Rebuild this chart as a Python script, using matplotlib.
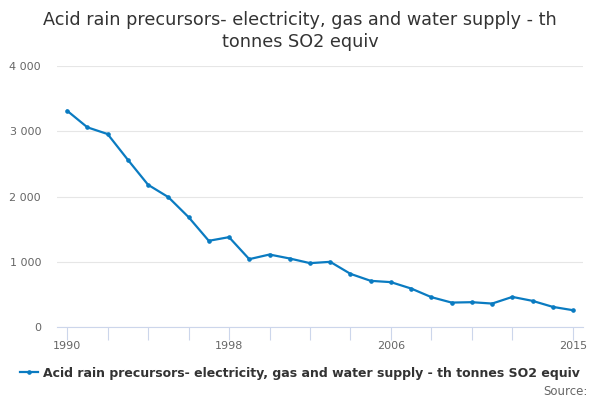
import matplotlib
matplotlib.use("Agg")
import matplotlib.pyplot as plt
from matplotlib.ticker import FuncFormatter

# data (thousand tonnes SO2 equivalent)
years = list(range(1990, 2016))
values = [3315, 3061, 2958, 2564, 2181, 1992, 1686, 1323, 1379, 1042,
          1113, 1052, 981, 1001, 817, 710, 690, 592, 460, 377,
          383, 362, 464, 403, 311, 260]
tick_years = [1990, 1992, 1994, 1996, 1998, 2000, 2002, 2004, 2006, 2008, 2010, 2012, 2015]
label_years = [1990, 1998, 2006, 2015]
series_name = "Acid rain precursors- electricity, gas and water supply - th tonnes SO2 equiv"
title = "Acid rain precursors- electricity, gas and water supply - th\ntonnes SO2 equiv"

blue = "#0a7bc1"

fig = plt.figure(figsize=(6, 4), dpi=100)
ax = fig.add_axes([0.095, 0.182, 0.877, 0.653])

ax.plot(years, values, color=blue, lw=1.6, marker="o", ms=2.3, label=series_name)

ax.set_xlim(1989.5, 2015.5)
ax.set_ylim(0, 4000)
ax.set_yticks([0, 1000, 2000, 3000, 4000])
ax.yaxis.set_major_formatter(FuncFormatter(lambda v, p: f"{int(v):,}".replace(",", " ")))
ax.set_xticks(tick_years)
ax.set_xticklabels([str(y) if y in label_years else "" for y in tick_years])

ax.grid(axis="y", color="#e6e6e6", lw=0.8)
ax.set_axisbelow(True)
for s in ["top", "right", "left"]:
    ax.spines[s].set_visible(False)
ax.spines["bottom"].set_color("#ccd6eb")
ax.tick_params(axis="y", length=0, labelsize=8, labelcolor="#666666", pad=11.5)
ax.tick_params(axis="x", length=9, color="#ccd6eb", labelsize=8, labelcolor="#666666", pad=1)

fig.text(0.5, 0.972, title, ha="center", va="top", fontsize=12.7, color="#333333", linespacing=1.3)

leg = fig.legend(loc="center", bbox_to_anchor=(0.5, 0.067), frameon=False,
                 prop={"size": 9, "weight": "bold"}, handlelength=1.4, handletextpad=0.4)
for t in leg.get_texts():
    t.set_color("#333333")

fig.text(0.98, 0.022, "Source:", ha="right", va="center", fontsize=8.5, color="#666666")

fig.savefig("out.png", dpi=100)
